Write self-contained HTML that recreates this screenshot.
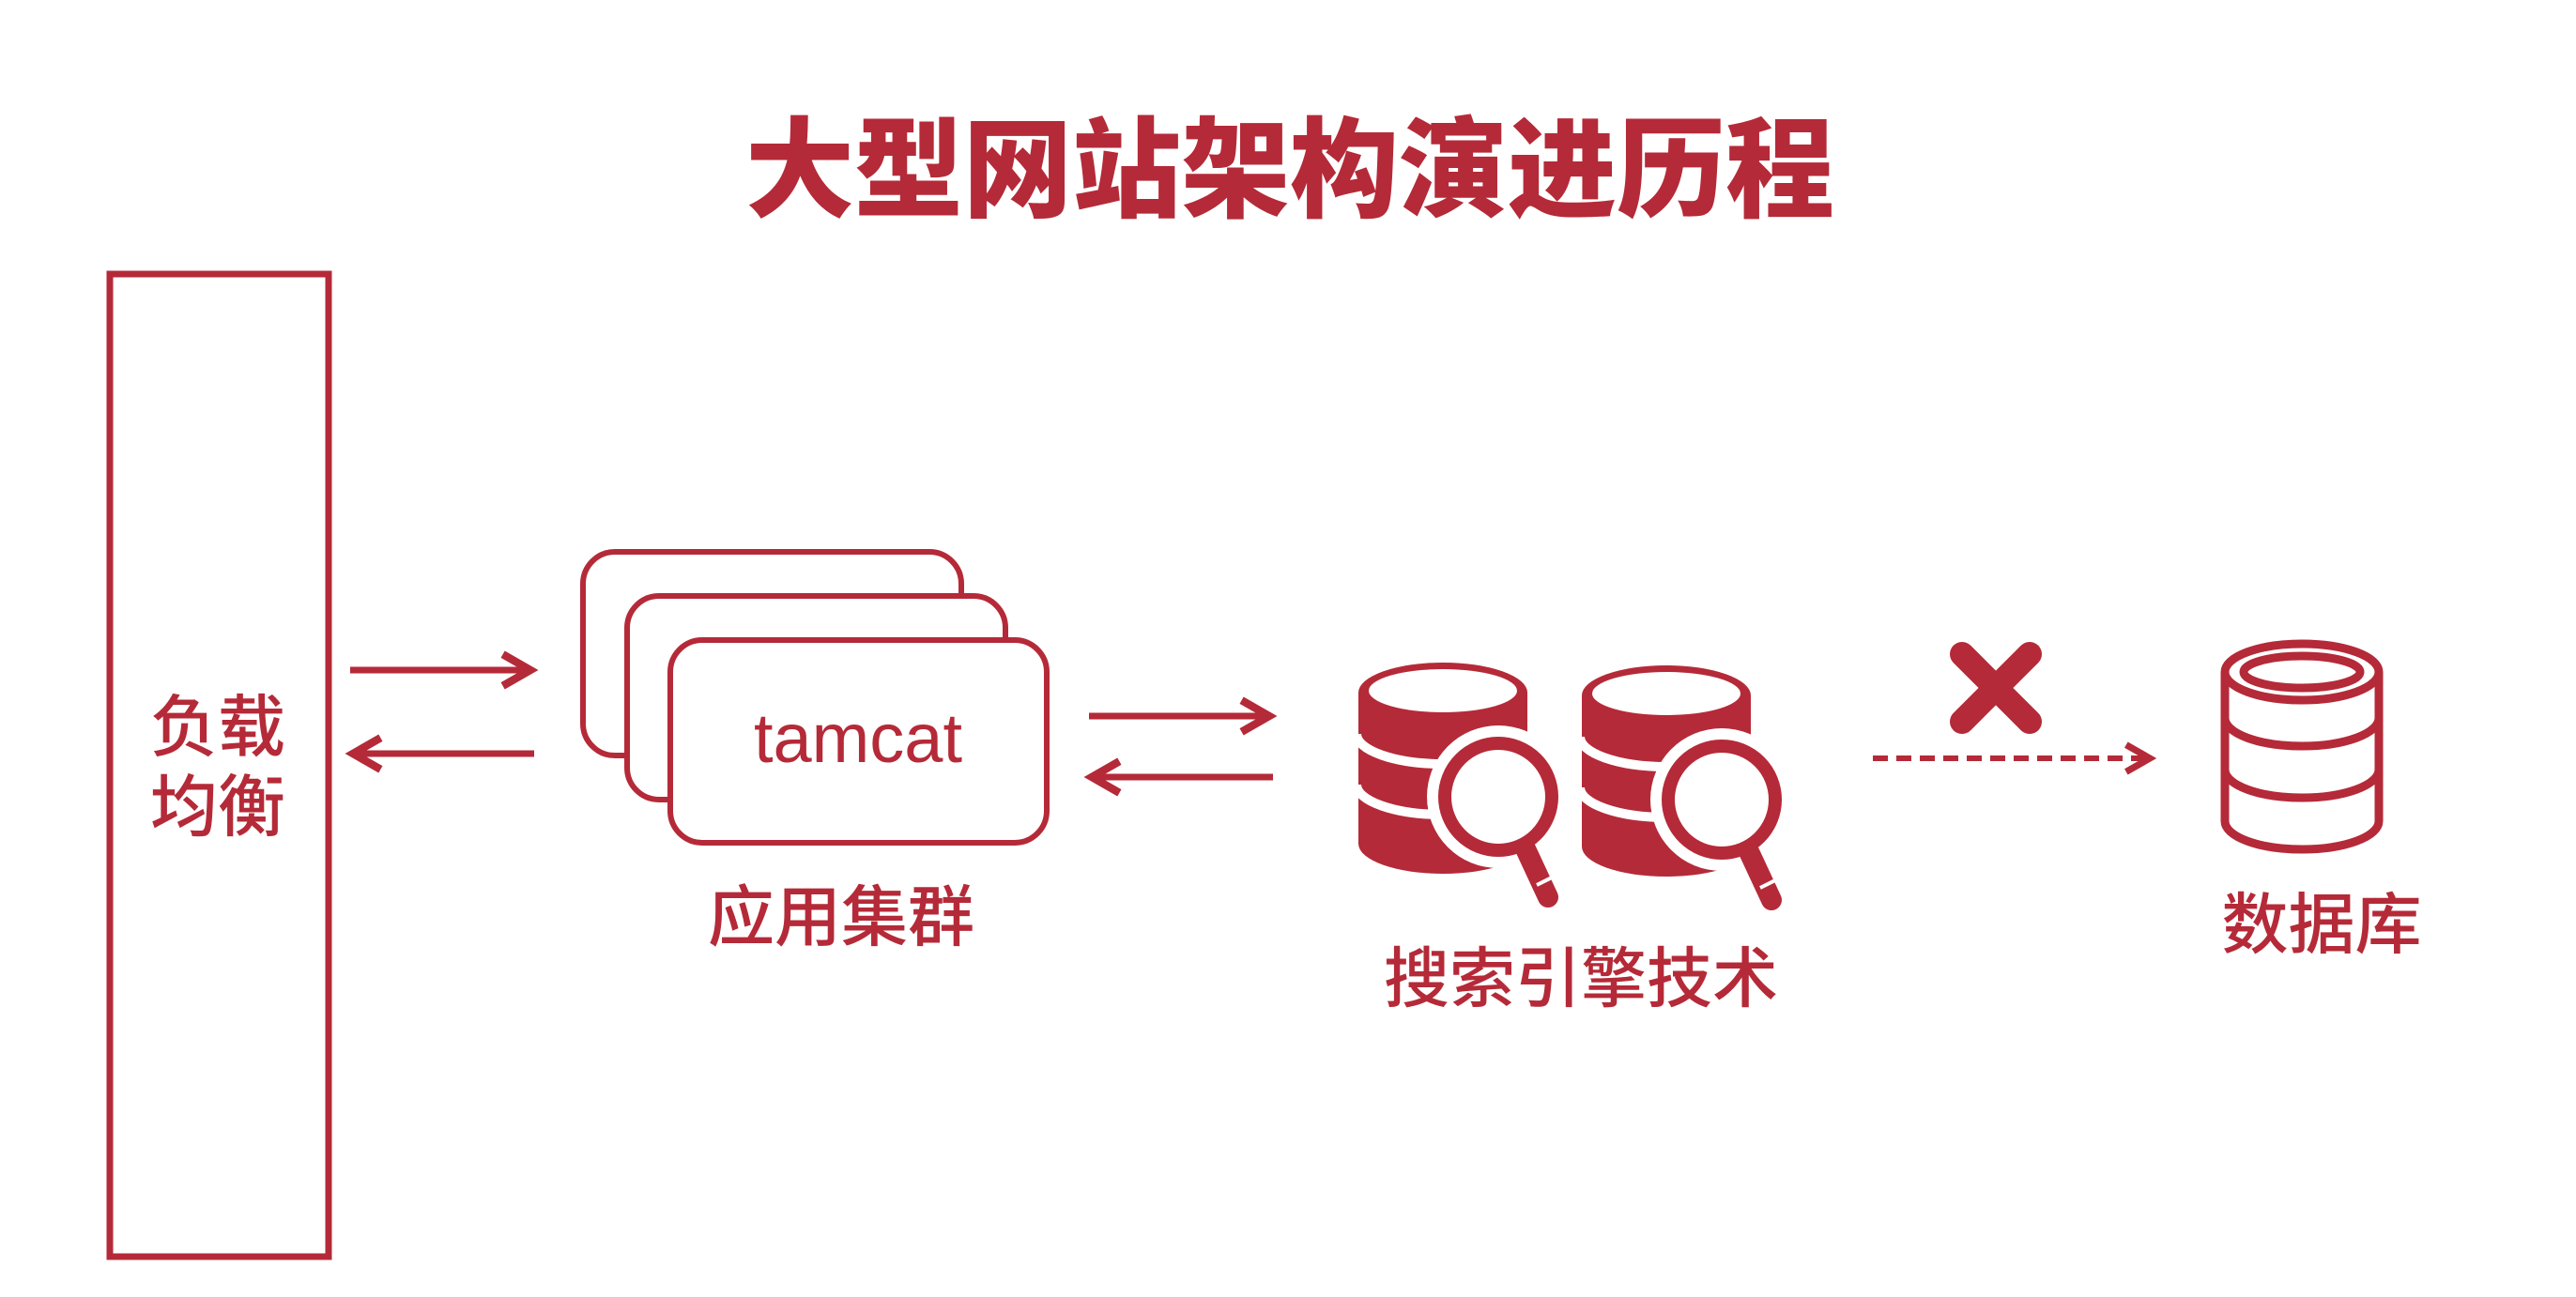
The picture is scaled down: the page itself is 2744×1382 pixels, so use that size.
<!DOCTYPE html>
<html><head><meta charset="utf-8"><style>
html,body{margin:0;padding:0;background:#fff;}
svg{display:block}
text{font-family:"Liberation Sans","Noto Sans CJK SC",sans-serif;fill:#b52a38}
</style></head><body>
<svg width="2744" height="1382" viewBox="0 0 2744 1382" xmlns="http://www.w3.org/2000/svg">
<defs>
<marker id="ah" viewBox="0 0 10 10" refX="8" refY="5" markerWidth="6" markerHeight="6" orient="auto-start-reverse">
<path d="M1,1 L8,5 L1,9" fill="none" stroke="#b52a38" stroke-width="2"/>
</marker>
<g id="sdb">
<ellipse cx="0" cy="161" rx="90" ry="32" fill="#b52a38"/>
<rect x="-90" y="0" width="180" height="161" fill="#b52a38"/>
<ellipse cx="0" cy="0" rx="90" ry="32" fill="#b52a38"/>
<ellipse cx="0" cy="-2" rx="79" ry="23" fill="#fff"/>
<path d="M-92,44 A92,32 0 0 0 92,44" fill="none" stroke="#fff" stroke-width="10"/>
<path d="M-92,98 A92,32 0 0 0 92,98" fill="none" stroke="#fff" stroke-width="10"/>
<circle cx="59" cy="111" r="76" fill="#fff"/>
<line x1="85" y1="160" x2="112" y2="218" stroke="#fff" stroke-width="36" stroke-linecap="round"/>
<line x1="85" y1="160" x2="112" y2="218" stroke="#b52a38" stroke-width="22" stroke-linecap="round"/>
<line x1="100" y1="205" x2="122" y2="194" stroke="#fff" stroke-width="4"/>
<circle cx="59" cy="111" r="57" fill="#fff" stroke="#b52a38" stroke-width="14"/>
</g>
</defs>
<text x="1374" y="222" font-size="116" font-weight="900" text-anchor="middle" font-family="'Noto Sans CJK SC',sans-serif">大型网站架构演进历程</text>
<rect x="117" y="292" width="233" height="1047" fill="none" stroke="#b52a38" stroke-width="7"/>
<g stroke="#b52a38" stroke-width="6" fill="#fff">
<rect x="621" y="588" width="403" height="217" rx="34"/>
<rect x="668" y="635" width="403" height="217" rx="34"/>
<rect x="714" y="682" width="401" height="216" rx="34"/>
</g>
<g font-weight="500">
<text x="232" y="800" font-size="72" text-anchor="middle">负载</text>
<text x="232" y="885" font-size="72" text-anchor="middle">均衡</text>
<text x="914" y="812" font-size="74" text-anchor="middle">tamcat</text>
<text x="896" y="1002" font-size="71" text-anchor="middle">应用集群</text>
<text x="1684" y="1067" font-size="70" text-anchor="middle">搜索引擎技术</text>
<text x="2473" y="1010" font-size="71" text-anchor="middle">数据库</text>
</g>
<g stroke="#b52a38" stroke-width="7" fill="none">
<line x1="373" y1="714" x2="565" y2="714" marker-end="url(#ah)"/>
<line x1="376" y1="803" x2="569" y2="803" marker-start="url(#ah)"/>
<line x1="1160" y1="763" x2="1352" y2="763" marker-end="url(#ah)"/>
<line x1="1163" y1="828" x2="1356" y2="828" marker-start="url(#ah)"/>
<line x1="1995" y1="808" x2="2290" y2="808" stroke-dasharray="16,9" stroke-width="6" marker-end="url(#ah)"/>
</g>
<use href="#sdb" x="1537" y="738"/>
<use href="#sdb" x="1775" y="741"/>
<g stroke="#b52a38" stroke-width="26" stroke-linecap="round">
<line x1="2090" y1="697" x2="2162" y2="769"/>
<line x1="2162" y1="697" x2="2090" y2="769"/>
</g>
<g stroke="#b52a38" stroke-width="9" fill="none">
<ellipse cx="2452" cy="716" rx="82" ry="30"/>
<ellipse cx="2452" cy="716" rx="62" ry="17"/>
<line x1="2370" y1="716" x2="2370" y2="875"/>
<line x1="2534" y1="716" x2="2534" y2="875"/>
<path d="M2370,765 A82,30 0 0 0 2534,765"/>
<path d="M2370,820 A82,30 0 0 0 2534,820"/>
<path d="M2370,875 A82,30 0 0 0 2534,875"/>
</g>
</svg>
</body></html>
